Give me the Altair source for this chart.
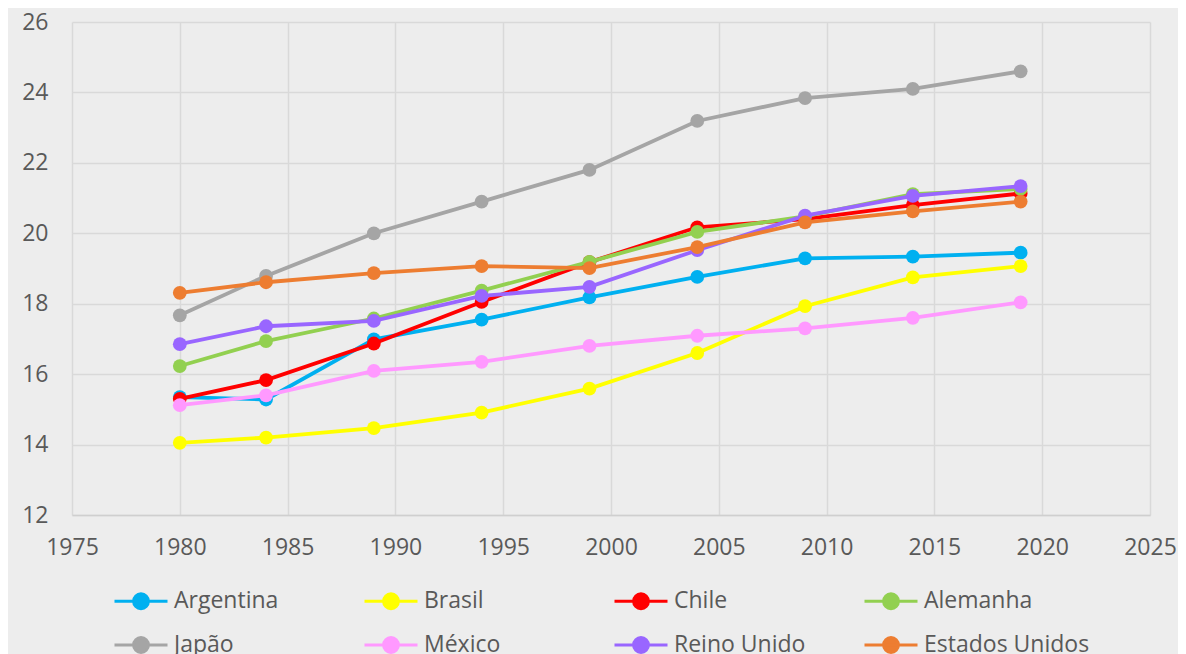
import altair as alt
import pandas as pd

years = [1980, 1984, 1989, 1994, 1999, 2004, 2009, 2014, 2019]
countries = ["Argentina", "Brasil", "Chile", "Alemanha", "Japão", "México", "Reino Unido", "Estados Unidos"]
colors = ["#00B0F0", "#FFFF00", "#FF0000", "#92D050", "#A5A5A5", "#FF99FF", "#9966FF", "#ED7D31"]

argentina = [15.35, 15.28, 16.99, 17.55, 18.18, 18.76, 19.29, 19.34, 19.45]
brasil = [14.05, 14.20, 14.47, 14.91, 15.59, 16.60, 17.93, 18.75, 19.07]
chile = [15.30, 15.83, 16.87, 18.05, 19.18, 20.17, 20.40, 20.80, 21.13]
alemanha = [16.23, 16.94, 17.58, 18.37, 19.19, 20.04, 20.48, 21.11, 21.26]
japao = [17.67, 18.79, 20.00, 20.90, 21.80, 23.19, 23.84, 24.10, 24.60]
mexico = [15.12, 15.40, 16.09, 16.35, 16.80, 17.09, 17.30, 17.60, 18.04]
reino_unido = [16.85, 17.36, 17.51, 18.22, 18.48, 19.52, 20.50, 21.06, 21.34]
estados_unidos = [18.31, 18.61, 18.87, 19.07, 19.01, 19.61, 20.31, 20.62, 20.90]

series = [argentina, brasil, chile, alemanha, japao, mexico, reino_unido, estados_unidos]

rows = []
for name, vals in zip(countries, series):
    for yr, v in zip(years, vals):
        rows.append({"ano": yr, "valor": v, "pais": name})
df = pd.DataFrame(rows)

FONT = "Open Sans"
TXT = "#595959"
GRID = "#D9D9D9"

color = alt.Color(
    "pais:N",
    scale=alt.Scale(domain=countries, range=colors),
    legend=alt.Legend(
        title=None,
        orient="none",
        direction="horizontal",
        legendX=41,
        legendY=551,
        columns=4,
        gridAlign="all",
        columnPadding=18,
        rowPadding=2,
        padding=0,
        symbolType="M-1,0H1M-0.28,0A0.28,0.28,0,1,1,0.28,0A0.28,0.28,0,1,1,-0.28,0Z",
        symbolSize=2809,
        symbolStrokeWidth=3,
        labelFont=FONT,
        labelFontSize=23,
        labelColor=TXT,
        labelOffset=5,
        labelLimit=400,
    ),
)

x = alt.X(
    "ano:Q",
    scale=alt.Scale(domain=[1975, 2025], nice=False, zero=False),
    axis=alt.Axis(
        title=None,
        values=list(range(1975, 2030, 5)),
        format="d",
        ticks=False,
        labelPadding=21,
        labelFont=FONT,
        labelFontSize=23,
        labelColor=TXT,
        gridColor=GRID,
        gridWidth=1.5,
        domainColor="#CFCFCF",
        domainWidth=1.5,
        labelFlush=False,
    ),
)
y = alt.Y(
    "valor:Q",
    scale=alt.Scale(domain=[12, 26], nice=False, zero=False),
    axis=alt.Axis(
        title=None,
        values=list(range(12, 28, 2)),
        format="d",
        ticks=False,
        domain=False,
        labelPadding=24,
        labelFont=FONT,
        labelFontSize=23,
        labelColor=TXT,
        gridColor=GRID,
        gridWidth=1.5,
        labelFlush=False,
    ),
)

layers = []
for name in countries:
    base = alt.Chart(df).transform_filter(alt.datum.pais == name)
    layers.append(base.mark_line(strokeWidth=3.8).encode(x=x, y=y, color=color))
    layers.append(
        base.mark_point(filled=True, size=190, opacity=1).encode(x=x, y=y, color=color)
    )

chart = (
    alt.layer(*layers)
    .properties(
        width=1078,
        height=493,
        background="#EDEDED",
        padding={"left": 64, "top": 14, "right": 28, "bottom": 170},
        autosize=alt.AutoSizeParams(type="none"),
    )
    .configure_view(stroke=None)
)

chart.save("out.html", embed_options={"renderer": "svg", "actions": False})
